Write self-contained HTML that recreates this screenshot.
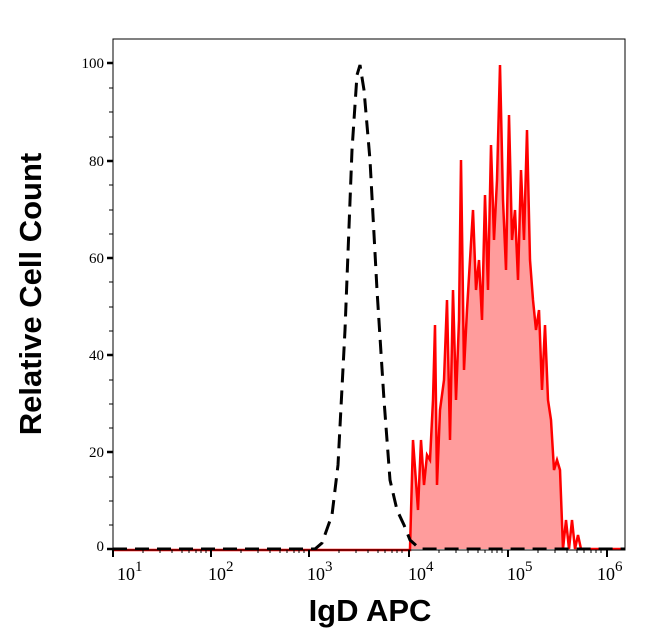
<!DOCTYPE html>
<html><head><style>body{margin:0;background:#fff}svg{display:block}</style></head><body>
<svg width="646" height="641" xmlns="http://www.w3.org/2000/svg">
<rect width="646" height="641" fill="#fff"/>
<g font-family="Liberation Serif, serif" font-size="15" fill="#000">
<text x="104" y="68" text-anchor="end">100</text>
<text x="104" y="166" text-anchor="end">80</text>
<text x="104" y="263" text-anchor="end">60</text>
<text x="104" y="360" text-anchor="end">40</text>
<text x="104" y="457" text-anchor="end">20</text>
<text x="104" y="551" text-anchor="end">0</text>
<g font-size="18">
<text x="117" y="580">10<tspan dy="-9" font-size="15">1</tspan></text>
<text x="208" y="580">10<tspan dy="-9" font-size="15">2</tspan></text>
<text x="307" y="580">10<tspan dy="-9" font-size="15">3</tspan></text>
<text x="408" y="580">10<tspan dy="-9" font-size="15">4</tspan></text>
<text x="507" y="580">10<tspan dy="-9" font-size="15">5</tspan></text>
<text x="597" y="580">10<tspan dy="-9" font-size="15">6</tspan></text>
</g></g>
<polygon fill="#ff9c9c" points="410,549 413,440 418,510 421,440 424,485 427,455 430,460 433,400 435,325 437,485 440,410 444,380 447,300 450,440 453,290 456,400 459,320 461,160 464,370 467,310 470,260 473,210 476,290 479,260 482,320 485,195 488,290 491,145 494,240 497,180 500,65 503,200 506,270 509,115 512,240 515,210 518,280 521,170 524,240 527,130 530,260 533,300 536,330 539,310 542,390 545,325 548,400 551,420 554,470 557,460 560,470 563,549"/>
<polyline fill="none" stroke="#f00" stroke-width="2.5" points="113,550 410,550 410,549 413,440 418,510 421,440 424,485 427,455 430,460 433,400 435,325 437,485 440,410 444,380 447,300 450,440 453,290 456,400 459,320 461,160 464,370 467,310 470,260 473,210 476,290 479,260 482,320 485,195 488,290 491,145 494,240 497,180 500,65 503,200 506,270 509,115 512,240 515,210 518,280 521,170 524,240 527,130 530,260 533,300 536,330 539,310 542,390 545,325 548,400 551,420 554,470 557,460 560,470 563,549 566,520 569,549 572,520 575,549 578,535 581,549 625,549"/>
<polyline fill="none" stroke="#000" stroke-width="3" stroke-dasharray="14,8" points="113,549 315,549 322,543 332,515 338,465 345,330 352,150 357,75 360,65 364,90 370,160 377,290 384,400 390,480 397,510 404,525 410,540 420,549 625,549"/>
<rect x="113" y="39" width="512" height="511" fill="none" stroke="#000" stroke-width="1"/>
<g stroke="#000">
<g stroke-width="2.5"><path d="M107,63H113M107,161H113M107,258H113M107,355H113M107,452H113M107,549H113"/></g>
<path d="M109,88H113M109,112H113M109,137H113M109,185H113M109,210H113M109,234H113M109,282H113M109,307H113M109,331H113M109,380H113M109,404H113M109,428H113M109,477H113M109,501H113M109,525H113"/>
<g stroke-width="2"><path d="M113,550V557M211,550V557M309,550V557M409,550V557M508,550V557M607,550V557"/></g>
<path id="m" d="M143,550v3M160,550v3M172,550v3M182,550v3M189,550v3M196,550v3M201,550v3M206,550v3"/>
<use href="#m" x="98"/><use href="#m" x="196"/><use href="#m" x="296"/><use href="#m" x="395"/>
</g>
<text x="370" y="621" text-anchor="middle" font-family="Liberation Sans, sans-serif" font-weight="bold" font-size="31">IgD APC</text>
<text transform="translate(41,294) rotate(-90)" text-anchor="middle" font-family="Liberation Sans, sans-serif" font-weight="bold" font-size="31">Relative Cell Count</text>
</svg>
</body></html>
